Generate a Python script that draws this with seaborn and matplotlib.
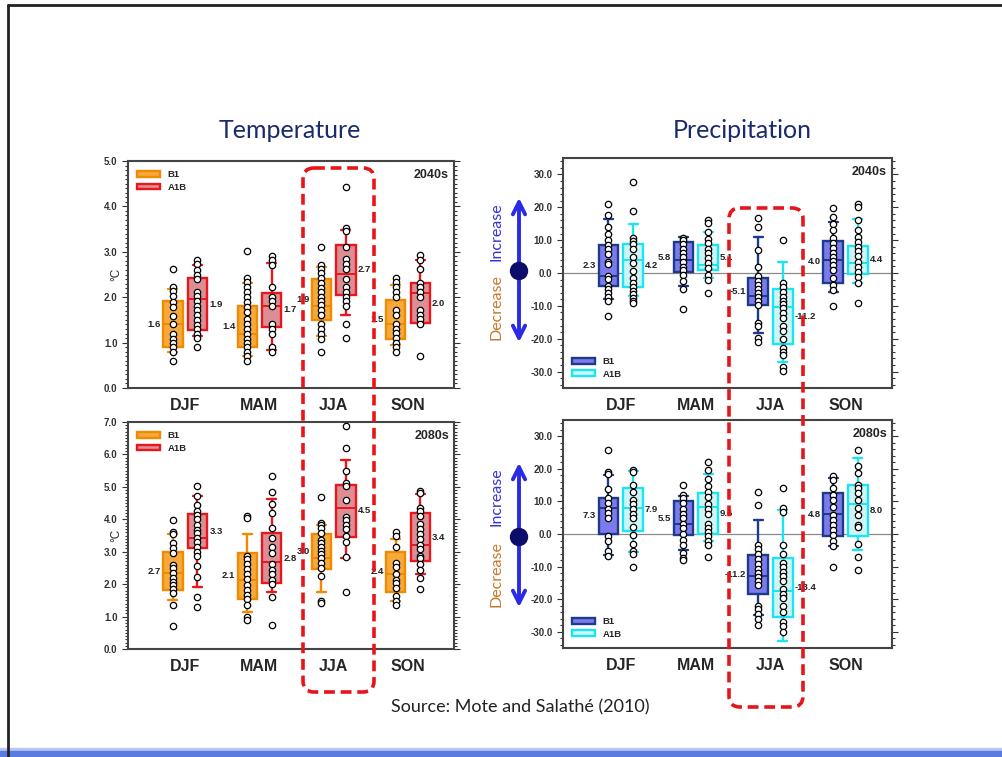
import pandas as pd
import seaborn as sns
import matplotlib.pyplot as plt
from matplotlib.patches import Patch, FancyBboxPatch, FancyArrowPatch, Circle
from matplotlib.ticker import MultipleLocator, FormatStrFormatter

seasons = ['DJF', 'MAM', 'JJA', 'SON']

# Temperature 2040s (°C)
t40_b1_pts = [[2.62, 2.22, 2.14, 2.03, 1.89, 1.78, 1.59, 1.41, 1.20, 1.09, 1.00, 0.90, 0.80, 0.59],
              [3.02, 2.42, 2.33, 2.22, 2.11, 2.00, 1.89, 1.78, 1.67, 1.51, 1.41, 1.29, 1.20, 1.09, 1.00, 0.90, 0.79, 0.70, 0.59],
              [3.11, 2.72, 2.63, 2.53, 2.43, 2.32, 2.20, 2.11, 2.00, 1.92, 1.82, 1.71, 1.60, 1.40, 1.29, 1.20, 1.09, 0.80],
              [2.42, 2.33, 2.22, 2.11, 2.00, 1.71, 1.60, 1.42, 1.31, 1.21, 1.11, 1.00, 0.90, 0.80]]
t40_b1_box = [[0.80, 0.90, 1.41, 1.91, 2.17], [0.70, 0.90, 1.20, 1.81, 2.31],
              [1.14, 1.49, 1.81, 2.40, 2.67], [0.94, 1.08, 1.41, 1.94, 2.26]]
t40_b1_lab = ['1.6', '1.4', '1.9', '1.5']
t40_a1b_pts = [[2.82, 2.74, 2.61, 2.50, 2.41, 2.11, 2.03, 1.92, 1.80, 1.71, 1.60, 1.49, 1.38, 1.29, 1.20, 1.10, 0.90],
               [2.91, 2.83, 2.72, 2.22, 2.00, 1.91, 1.81, 1.42, 1.31, 1.20, 0.90, 0.79],
               [4.43, 3.52, 3.46, 3.11, 2.84, 2.74, 2.63, 2.41, 2.22, 2.11, 2.00, 1.92, 1.81, 1.40, 1.10],
               [2.92, 2.83, 2.63, 2.31, 2.22, 2.11, 2.00, 1.71, 1.60, 1.51, 1.40, 0.70]]
t40_a1b_box = [[1.15, 1.28, 1.95, 2.42, 2.70], [0.84, 1.34, 1.81, 2.10, 2.76],
               [1.61, 2.04, 2.52, 3.16, 3.47], [1.43, 1.43, 2.10, 2.31, 2.83]]
t40_a1b_lab = ['1.9', '1.7', '2.7', '2.0']

# Temperature 2080s (°C)
t80_b1_pts = [[3.98, 3.61, 3.54, 3.26, 3.11, 2.95, 2.59, 2.51, 2.34, 2.20, 2.08, 1.98, 1.84, 1.74, 1.36, 0.70],
              [4.09, 4.03, 2.88, 2.77, 2.61, 2.46, 2.30, 2.15, 1.98, 1.82, 1.67, 1.54, 1.36, 0.98, 0.88],
              [4.69, 3.89, 3.82, 3.72, 3.59, 3.36, 3.26, 3.14, 3.02, 2.92, 2.80, 2.64, 2.51, 2.25, 1.49, 1.41],
              [3.62, 3.48, 3.16, 2.64, 2.54, 2.32, 2.13, 2.03, 1.88, 1.62, 1.47, 1.36]]
t80_b1_box = [[1.52, 1.82, 2.34, 2.99, 3.55], [1.13, 1.54, 2.13, 2.97, 3.55],
              [1.77, 2.46, 2.82, 3.55, 3.82], [1.49, 1.76, 2.31, 3.00, 3.39]]
t80_b1_lab = ['2.7', '2.1', '3.0', '2.4']
t80_a1b_pts = [[5.04, 4.71, 4.44, 4.26, 4.13, 4.00, 3.82, 3.67, 3.57, 3.43, 3.31, 3.16, 3.00, 2.87, 2.57, 2.23, 1.59, 1.28],
               [5.33, 4.85, 4.46, 4.18, 3.72, 3.41, 3.16, 2.95, 2.61, 2.44, 2.31, 2.13, 2.00, 1.60, 0.75],
               [6.87, 6.20, 5.48, 5.12, 5.02, 4.61, 4.08, 3.98, 3.82, 3.69, 3.48, 3.31, 2.85, 1.77],
               [4.87, 4.80, 4.36, 4.26, 4.10, 3.85, 3.69, 3.54, 3.38, 3.21, 3.07, 2.88, 2.80, 2.62, 2.44, 2.18, 1.86]]
t80_a1b_box = [[1.92, 3.11, 3.43, 4.15, 4.73], [1.77, 2.03, 2.67, 3.57, 4.64],
               [2.80, 3.46, 4.34, 5.07, 5.84], [2.32, 2.70, 3.21, 4.20, 4.77]]
t80_a1b_lab = ['3.3', '2.8', '4.5', '3.4']

# Precipitation 2040s (%)
p40_b1_pts = [[20.9, 17.8, 13.9, 11.9, 10.0, 8.5, 7.2, 5.8, 3.4, 2.7, -0.9, -1.8, -4.0, -5.0, -6.2, -7.4, -8.4, -13.0],
              [10.8, 10.0, 8.7, 7.4, 6.0, 4.8, 3.3, 1.9, 0.8, -0.6, -2.3, -5.0, -10.9],
              [16.8, 13.9, 7.0, 1.9, -0.9, -2.4, -3.6, -5.0, -6.2, -7.2, -8.4, -9.7, -15.1, -16.1, -19.9, -21.0],
              [19.9, 16.9, 14.9, 13.1, 10.8, 9.0, 7.5, 6.2, 5.0, 3.6, 2.4, 0.9, -1.6, -3.6, -5.2, -9.9]]
p40_b1_box = [[-7.9, -3.9, -0.9, 8.5, 16.3], [-4.0, 0.2, 4.0, 9.5, 11.0],
              [-18.3, -9.7, -7.0, -1.4, 11.0], [-5.8, -2.9, 4.0, 9.7, 15.4]]
p40_b1_lab = ['2.3', '5.8', '-5.1', '4.0']
p40_a1b_pts = [[27.8, 18.9, 10.8, 9.8, 8.8, 7.2, 5.0, 2.9, 0.7, -1.6, -2.9, -4.2, -5.4, -6.5, -7.7, -8.5, -9.2],
               [16.1, 15.1, 12.6, 10.5, 9.0, 7.3, 6.0, 4.5, 2.9, 1.4, -0.6, -2.1, -6.0],
               [10.0, -2.9, -4.2, -5.7, -7.2, -8.4, -9.5, -10.7, -12.3, -13.8, -16.1, -17.8, -20.2, -22.9, -23.9, -24.9, -28.7, -29.8],
               [21.0, 20.0, 16.1, 13.1, 11.0, 9.5, 8.0, 6.7, 5.2, 3.4, 1.9, 0.4, -1.1, -3.1, -9.0]]
p40_a1b_box = [[-6.9, -4.3, 4.0, 8.8, 14.8], [-1.6, 0.9, 2.4, 8.4, 12.6],
               [-27.0, -21.6, -10.4, -5.0, 3.4], [-3.1, -0.3, 2.9, 8.3, 16.3]]
p40_a1b_lab = ['4.2', '5.1', '-11.2', '4.4']

# Precipitation 2080s (%)
p80_b1_pts = [[25.9, 18.9, 18.3, 13.8, 11.0, 9.5, 7.7, 6.4, 4.9, -0.7, -2.0, -5.3, -6.8],
              [15.1, 12.0, 11.0, 9.5, 7.6, 6.2, 4.9, 3.2, 1.8, 0.1, -1.9, -3.3, -5.8, -7.3, -8.1],
              [13.0, 8.9, -3.3, -4.6, -6.0, -7.6, -9.1, -10.7, -11.9, -13.2, -14.4, -15.8, -22.1, -23.1, -24.6, -26.1, -28.0],
              [17.9, 16.6, 14.2, 12.0, 10.3, 8.2, 5.9, 4.2, 2.8, 1.3, -0.2, -2.3, -3.8, -10.1]]
p80_b1_box = [[-6.6, 0.1, 7.9, 11.0, 18.1], [-4.8, -0.2, 3.1, 10.0, 11.7],
              [-24.8, -18.3, -12.9, -6.3, 4.2], [-3.8, -0.7, 6.1, 12.7, 17.1]]
p80_b1_lab = ['7.3', '5.5', '-11.2', '4.8']
p80_a1b_pts = [[19.8, 19.1, 15.1, 13.0, 10.5, 9.3, 7.7, 6.1, 4.9, 2.1, -0.2, -3.1, -5.3, -6.1, -10.1],
               [22.0, 19.6, 16.9, 14.7, 13.0, 11.3, 9.3, 7.6, 6.1, 3.2, 1.8, 0.5, -0.7, -2.0, -3.3, -7.0],
               [14.0, 7.9, 6.9, -3.3, -6.1, -8.8, -10.2, -11.7, -12.9, -14.4, -17.0, -18.3, -19.8, -22.1, -23.9, -26.9, -28.2, -30.0],
               [25.9, 20.8, 18.6, 15.1, 14.0, 12.7, 10.5, 7.9, 5.9, 2.8, 2.1, -3.1, -7.1, -11.1]]
p80_a1b_box = [[-5.6, 1.0, 7.9, 14.0, 19.4], [-2.2, 0.1, 8.4, 12.5, 18.3],
               [-32.9, -25.6, -17.5, -7.5, 7.4], [-5.0, -0.7, 9.2, 15.1, 23.4]]
p80_a1b_lab = ['7.9', '9.6', '-13.4', '8.0']

sns.set_style('ticks')
plt.rcParams['font.family'] = ['Liberation Sans', 'DejaVu Sans']

T_COL = {'B1': ('#F7A93B', '#F08A00'), 'A1B': ('#DD8E95', '#E8171E')}
P_COL = {'B1': ('#7B7BEE', '#1E3A8A'), 'A1B': ('#CDF5F5', '#19E6F0')}
OFF = 0.165
BW = 0.26


def dibujar_panel(ax, series, colores, ylim, major, minor, decada, leg_loc):
    filas = []
    for nombre, off, pts, box, lab in series:
        fc, ec = colores[nombre]
        stats = [dict(whislo=b[0], q1=b[1], med=b[2], q3=b[3], whishi=b[4], fliers=[]) for b in box]
        pos = [i + 1 + off for i in range(len(seasons))]
        ax.bxp(stats, positions=pos, widths=BW, capwidths=0.12, patch_artist=True,
               showfliers=False, manage_ticks=False,
               boxprops=dict(facecolor=fc, edgecolor=ec, linewidth=1.7),
               whiskerprops=dict(color=ec, linewidth=1.7),
               capprops=dict(color=ec, linewidth=1.7),
               medianprops=dict(color=ec, linewidth=1.4))
        for i, s in enumerate(seasons):
            for v in pts[i]:
                filas.append({'x': pos[i], 'v': v})
            ymid = (box[i][1] + box[i][3]) / 2
            if off < 0:
                ax.text(pos[i] - BW / 2 - 0.03, ymid, lab[i], ha='right', va='center',
                        fontsize=6.8, fontweight='bold', color='#222222')
            else:
                ax.text(pos[i] + BW / 2 + 0.03, ymid, lab[i], ha='left', va='center',
                        fontsize=6.8, fontweight='bold', color='#222222')
    df = pd.DataFrame(filas)
    sns.scatterplot(data=df, x='x', y='v', ax=ax, color='white', edgecolor='black',
                    linewidth=0.9, s=21, zorder=6, legend=False)

    ax.set_xlim(0.23, 4.62)
    ax.set_ylim(*ylim)
    ax.set_xticks(range(1, 5))
    ax.set_xticklabels(seasons, fontsize=11.5, fontweight='bold')
    ax.tick_params(axis='x', length=0, pad=7)
    ax.yaxis.set_major_locator(MultipleLocator(major))
    ax.yaxis.set_minor_locator(MultipleLocator(minor))
    ax.yaxis.set_major_formatter(FormatStrFormatter('%.1f'))
    ax.tick_params(axis='y', which='both', direction='out', left=True, right=True,
                   labelsize=7, colors='#333333', width=0.8)
    ax.tick_params(axis='y', which='major', length=4)
    ax.tick_params(axis='y', which='minor', length=2)
    for lbl in ax.get_yticklabels():
        lbl.set_fontweight('bold')
    for sp in ax.spines.values():
        sp.set_color('#444444')
        sp.set_linewidth(1.5)
    ax.set_xlabel('')
    ax.set_ylabel('')
    ax.text(0.985, 0.965, decada, transform=ax.transAxes, ha='right', va='top',
            fontsize=9, fontweight='bold')
    handles = [Patch(facecolor=colores[k][0], edgecolor=colores[k][1], linewidth=1.7, label=k)
               for k in ['B1', 'A1B']]
    ax.legend(handles=handles, loc=leg_loc, frameon=False, handlelength=2.4, handleheight=0.55,
              labelspacing=0.35, borderaxespad=0.6, prop=dict(weight='bold', size=6.8))


fig = plt.figure(figsize=(10.03, 7.57), dpi=100)
W, H = 1003, 757


def rect(x0, y0, x1, y1):
    return [x0 / W, (H - y1) / H, (x1 - x0) / W, (y1 - y0) / H]


ax_t40 = fig.add_axes(rect(128, 161, 454, 388))
ax_t80 = fig.add_axes(rect(128, 422, 454, 649))
ax_p40 = fig.add_axes(rect(563, 158, 892, 388))
ax_p80 = fig.add_axes(rect(563, 420, 892, 648))

dibujar_panel(ax_t40, [('B1', -OFF, t40_b1_pts, t40_b1_box, t40_b1_lab),
                       ('A1B', OFF, t40_a1b_pts, t40_a1b_box, t40_a1b_lab)],
              T_COL, (0, 5), 1, 0.1, '2040s', 'upper left')
dibujar_panel(ax_t80, [('B1', -OFF, t80_b1_pts, t80_b1_box, t80_b1_lab),
                       ('A1B', OFF, t80_a1b_pts, t80_a1b_box, t80_a1b_lab)],
              T_COL, (0, 7), 1, 0.1, '2080s', 'upper left')
dibujar_panel(ax_p40, [('B1', -OFF, p40_b1_pts, p40_b1_box, p40_b1_lab),
                       ('A1B', OFF, p40_a1b_pts, p40_a1b_box, p40_a1b_lab)],
              P_COL, (-35, 35), 10, 2, '2040s', 'lower left')
dibujar_panel(ax_p80, [('B1', -OFF, p80_b1_pts, p80_b1_box, p80_b1_lab),
                       ('A1B', OFF, p80_a1b_pts, p80_a1b_box, p80_a1b_lab)],
              P_COL, (-35, 35), 10, 2, '2080s', 'lower left')

for ax in (ax_t40, ax_t80):
    ax.text(-0.035, 0.5, '°C', transform=ax.transAxes, rotation=90, ha='center',
            va='center', fontsize=8.5)
for ax in (ax_p40, ax_p80):
    ax.axhline(0, color='#8A8A8A', linewidth=0.9, zorder=1)

# Capa de anotaciones en pixeles
ov = fig.add_axes([0, 0, 1, 1], zorder=10)
ov.set_xlim(0, W)
ov.set_ylim(H, 0)
ov.axis('off')
ov.patch.set_alpha(0)

ov.plot([8, 8], [5, H], color='#222222', linewidth=2)
ov.plot([8, W], [5, 5], color='#222222', linewidth=2)
ov.axhspan(748, 751, color='#BAC6F5')
ov.axhspan(751, H, color='#5B7BE0')

ov.text(290, 130, 'Temperature', ha='center', va='center', fontsize=18,
        color='#1B2A6B', family=['Lato', 'DejaVu Sans'])
ov.text(742, 130, 'Precipitation', ha='center', va='center', fontsize=18,
        color='#1B2A6B', family=['Lato', 'DejaVu Sans'])
ov.text(520, 707, 'Source: Mote and Salathé (2010)', ha='center', va='center', fontsize=13,
        color='#222222', family=['Lato', 'DejaVu Sans'])

for x0, y0, x1, y1 in [(303, 168, 374, 692), (729, 208, 803, 707)]:
    ov.add_patch(FancyBboxPatch((x0, y0), x1 - x0, y1 - y0,
                                boxstyle='round,pad=0,rounding_size=11', fill=False,
                                edgecolor='#E8141B', linewidth=2.6, linestyle=(0, (3, 1.6))))

for top, bot, mid, inc_y, dec_y in [(195, 345, 271, 232, 307), (460, 610, 537, 497, 574)]:
    ov.add_patch(FancyArrowPatch((519, bot), (519, top), arrowstyle='<->', mutation_scale=22,
                                 color='#2A2AE6', linewidth=2.8))
    ov.add_patch(Circle((519, mid), 8.5, color='#0C0C6A', zorder=5))
    ov.text(497, inc_y, 'Increase', rotation=90, ha='center', va='center', fontsize=11.5,
            color='#3434D6', family=['Lato', 'DejaVu Sans'])
    ov.text(497, dec_y, 'Decrease', rotation=90, ha='center', va='center', fontsize=11.5,
            color='#C8782F', family=['Lato', 'DejaVu Sans'])

plt.savefig('out.png', dpi=100)
